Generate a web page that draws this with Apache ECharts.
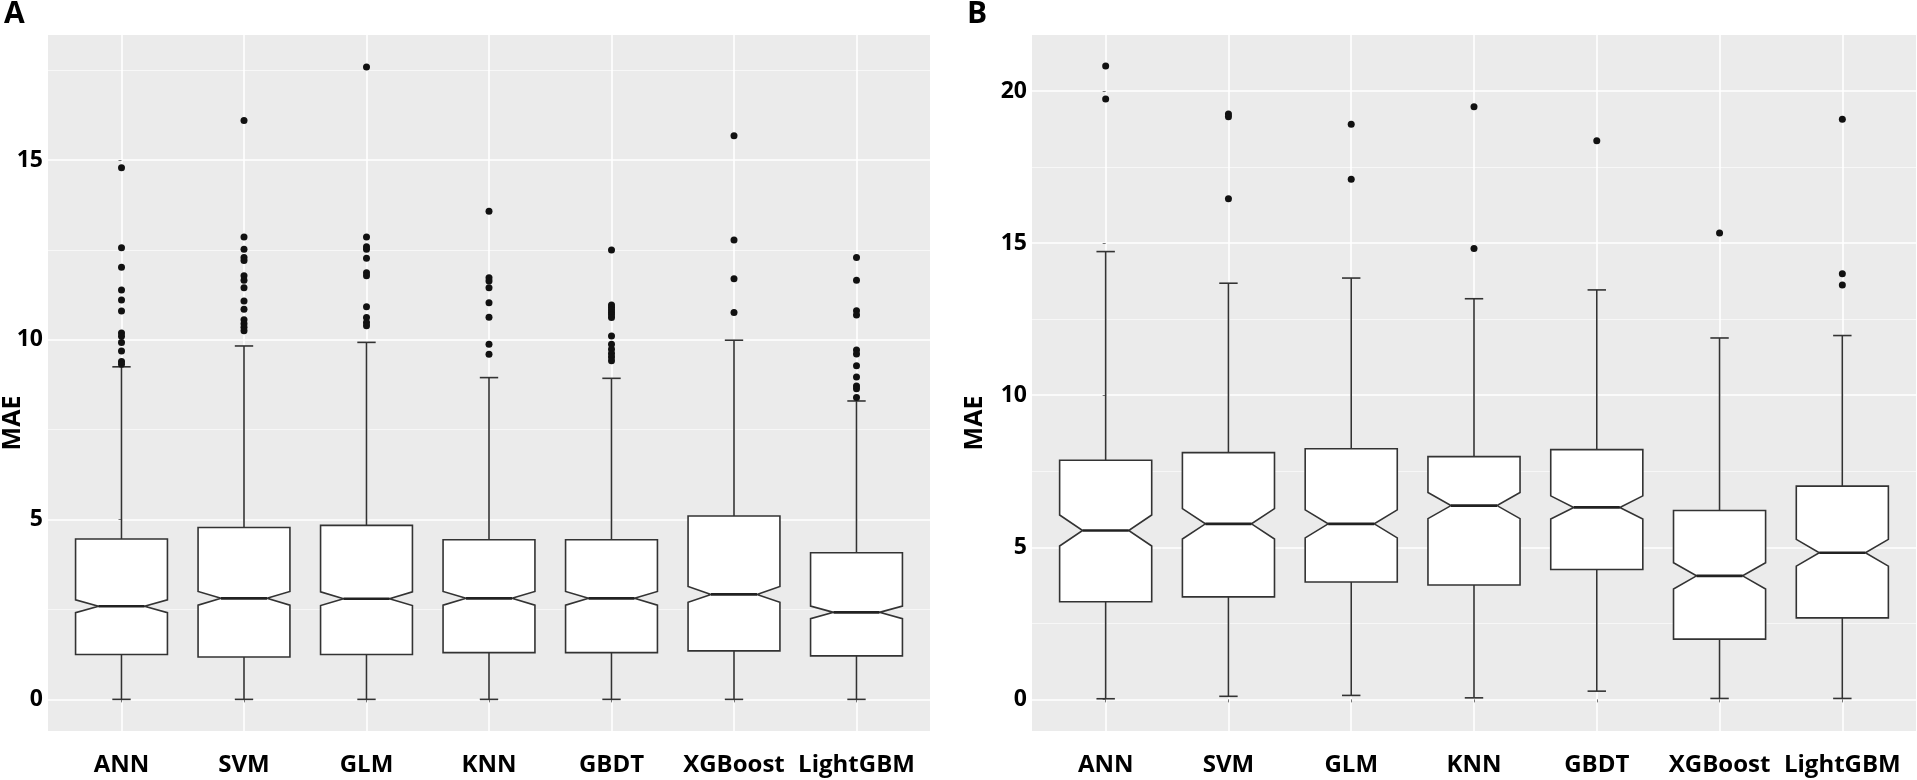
<!DOCTYPE html>
<html style="height: 100%">
<head>
<meta charset="utf-8">
<style>
    html, body { height: 100%; margin: 0; background: #fff; }
    #container { width: 1917px; height: 780px; }
</style>
<script src="https://cdn.jsdelivr.net/npm/echarts@6/dist/echarts.min.js"></script>
</head>
<body>
<div id="container"></div>
<script type="text/javascript">
// categories shared by both panels
var categories = ['ANN', 'SVM', 'GLM', 'KNN', 'GBDT', 'XGBoost', 'LightGBM'];

// panel A: whisker ends, quartiles, median, notch half-height
var aLow    = [0, 0, 0, 0, 0, 0, 0];
var aQ1     = [1.25, 1.18, 1.25, 1.30, 1.30, 1.35, 1.21];
var aMedian = [2.59, 2.81, 2.80, 2.81, 2.81, 2.92, 2.42];
var aQ3     = [4.46, 4.78, 4.84, 4.44, 4.44, 5.10, 4.08];
var aHigh   = [9.25, 9.83, 9.93, 8.95, 8.93, 9.99, 8.30];
var aNotch  = [0.18, 0.19, 0.19, 0.19, 0.19, 0.22, 0.175];
var aOutliers = [
    [14.79, 12.56, 12.02, 11.39, 11.11, 10.80, 10.19, 10.10, 9.93, 9.69, 9.40, 9.32],
    [16.10, 12.86, 12.52, 12.29, 12.21, 11.78, 11.66, 11.45, 11.08, 10.85, 10.56, 10.45, 10.35, 10.25],
    [17.59, 12.86, 12.59, 12.52, 12.27, 11.87, 11.78, 10.92, 10.62, 10.48, 10.39],
    [13.58, 11.73, 11.64, 11.45, 11.03, 10.63, 9.88, 9.60],
    [12.50, 10.97, 10.90, 10.83, 10.76, 10.70, 10.62, 10.11, 9.88, 9.74, 9.62, 9.52, 9.42],
    [15.68, 12.78, 11.70, 10.76],
    [12.29, 11.66, 10.81, 10.69, 9.72, 9.61, 9.28, 8.97, 8.72, 8.64, 8.40]
];

// panel B
var bLow    = [0.02, 0.10, 0.13, 0.05, 0.27, 0.03, 0.03];
var bQ1     = [3.21, 3.37, 3.86, 3.76, 4.27, 1.98, 2.68];
var bMedian = [5.55, 5.77, 5.77, 6.37, 6.31, 4.06, 4.82];
var bQ3     = [7.86, 8.11, 8.24, 7.98, 8.21, 6.21, 7.01];
var bHigh   = [14.72, 13.68, 13.85, 13.17, 13.46, 11.88, 11.96];
var bNotch  = [0.51, 0.50, 0.46, 0.43, 0.38, 0.43, 0.44];
var bOutliers = [
    [20.82, 19.74],
    [19.24, 19.15, 16.46],
    [18.91, 17.10],
    [19.48, 14.82],
    [18.36],
    [15.33],
    [19.07, 13.99, 13.62]
];

// axis ranges (ggplot style 5% expansion) and tick labels
var aRange = [-0.88, 18.48];
var bRange = [-1.04, 21.84];
var aTicks = [0, 5, 10, 15];
var bTicks = [0, 5, 10, 15, 20];
var catTicks = [0, 1, 2, 3, 4, 5, 6];

var FONT = '"Open Sans"';
var INK = '#333333';

function boxData(low, q1, med, q3, high, notch) {
    return categories.map(function (c, i) {
        return [i, low[i], q1[i], med[i] - notch[i], med[i], med[i] + notch[i], q3[i], high[i]];
    });
}
function outlierData(list) {
    var out = [];
    list.forEach(function (vals, i) {
        vals.forEach(function (v) { out.push([i, v]); });
    });
    return out;
}

function renderBox(params, api) {
    var x = api.value(0);
    var lo = api.coord([x, api.value(1)]);
    var q1 = api.coord([x, api.value(2)]);
    var nl = api.coord([x, api.value(3)]);
    var md = api.coord([x, api.value(4)]);
    var nh = api.coord([x, api.value(5)]);
    var q3 = api.coord([x, api.value(6)]);
    var hi = api.coord([x, api.value(7)]);
    var cx = lo[0];
    var hw = api.size([0.375, 0])[0];
    var cap = api.size([0.075, 0])[0];
    var st = { stroke: INK, lineWidth: 1.6 };
    return {
        type: 'group',
        children: [
            { type: 'line', shape: { x1: cx, y1: lo[1], x2: cx, y2: q1[1] }, style: st },
            { type: 'line', shape: { x1: cx, y1: q3[1], x2: cx, y2: hi[1] }, style: st },
            { type: 'line', shape: { x1: cx - cap, y1: lo[1], x2: cx + cap, y2: lo[1] }, style: st },
            { type: 'line', shape: { x1: cx - cap, y1: hi[1], x2: cx + cap, y2: hi[1] }, style: st },
            {
                type: 'polygon',
                shape: {
                    points: [
                        [cx - hw, q3[1]], [cx - hw, nh[1]], [cx - hw / 2, md[1]], [cx - hw, nl[1]],
                        [cx - hw, q1[1]], [cx + hw, q1[1]], [cx + hw, nl[1]], [cx + hw / 2, md[1]],
                        [cx + hw, nh[1]], [cx + hw, q3[1]]
                    ]
                },
                style: { fill: '#ffffff', stroke: INK, lineWidth: 1.6 }
            },
            { type: 'line', shape: { x1: cx - hw / 2, y1: md[1], x2: cx + hw / 2, y2: md[1] }, style: { stroke: '#222', lineWidth: 2.6 } }
        ]
    };
}

function xAxisFor(gridIndex) {
    return {
        type: 'value', gridIndex: gridIndex, min: -0.6, max: 6.6,
        axisLine: { show: false },
        axisTick: { show: true, customValues: catTicks, length: 3, lineStyle: { color: '#777', width: 1 } },
        axisLabel: {
            customValues: catTicks, margin: 22,
            color: '#000', fontFamily: FONT, fontWeight: 'bold', fontSize: 24,
            formatter: function (v) { return categories[Math.round(v)] || ''; }
        },
        splitLine: { show: true, lineStyle: { color: '#ffffff', width: 1.6 } }
    };
}
function yAxisFor(gridIndex, range, ticks) {
    return {
        type: 'value', gridIndex: gridIndex, min: range[0], max: range[1], splitNumber: 4,
        axisLine: { show: false },
        axisTick: { show: true, customValues: ticks, length: 3, lineStyle: { color: '#777', width: 1 } },
        axisLabel: {
            customValues: ticks, margin: 5,
            color: '#000', fontFamily: FONT, fontWeight: 'bold', fontSize: 23
        },
        splitLine: { show: true, lineStyle: { color: '#ffffff', width: 1.6 } },
        minorTick: { show: false, splitNumber: 2 },
        minorSplitLine: { show: true, lineStyle: { color: '#f8f8f8', width: 0.9 } }
    };
}

var dom = document.getElementById('container');
var myChart = echarts.init(dom);

var option = {
    animation: false,
    backgroundColor: '#ffffff',
    title: [
        { text: 'A', left: -1, top: -6, textStyle: { fontFamily: FONT, fontWeight: 'bold', fontSize: 30, color: '#000' } },
        { text: 'B', left: 962, top: -6, textStyle: { fontFamily: FONT, fontWeight: 'bold', fontSize: 30, color: '#000' } }
    ],
    graphic: [
        { type: 'text', x: 0, y: 423, rotation: Math.PI / 2, style: { text: 'MAE', fontFamily: FONT, fontWeight: 'bold', fontSize: 25, fill: '#000', align: 'center', verticalAlign: 'top' } },
        { type: 'text', x: 962, y: 423, rotation: Math.PI / 2, style: { text: 'MAE', fontFamily: FONT, fontWeight: 'bold', fontSize: 25, fill: '#000', align: 'center', verticalAlign: 'top' } }
    ],
    grid: [
        { left: 48, top: 35, width: 882, height: 696, show: true, backgroundColor: '#EBEBEB', borderWidth: 0 },
        { left: 1032, top: 35, width: 884, height: 696, show: true, backgroundColor: '#EBEBEB', borderWidth: 0 }
    ],
    xAxis: [xAxisFor(0), xAxisFor(1)],
    yAxis: [yAxisFor(0, aRange, aTicks), yAxisFor(1, bRange, bTicks)],
    series: [
        {
            name: 'A boxes', type: 'custom', xAxisIndex: 0, yAxisIndex: 0,
            renderItem: renderBox, encode: { x: 0, y: [1, 7] },
            data: boxData(aLow, aQ1, aMedian, aQ3, aHigh, aNotch), z: 2
        },
        {
            name: 'A outliers', type: 'scatter', xAxisIndex: 0, yAxisIndex: 0,
            symbolSize: 7, itemStyle: { color: '#111', opacity: 1 }, data: outlierData(aOutliers), z: 3
        },
        {
            name: 'B boxes', type: 'custom', xAxisIndex: 1, yAxisIndex: 1,
            renderItem: renderBox, encode: { x: 0, y: [1, 7] },
            data: boxData(bLow, bQ1, bMedian, bQ3, bHigh, bNotch), z: 2
        },
        {
            name: 'B outliers', type: 'scatter', xAxisIndex: 1, yAxisIndex: 1,
            symbolSize: 7, itemStyle: { color: '#111', opacity: 1 }, data: outlierData(bOutliers), z: 3
        }
    ]
};
myChart.setOption(option, true);
</script>
</body>
</html>
